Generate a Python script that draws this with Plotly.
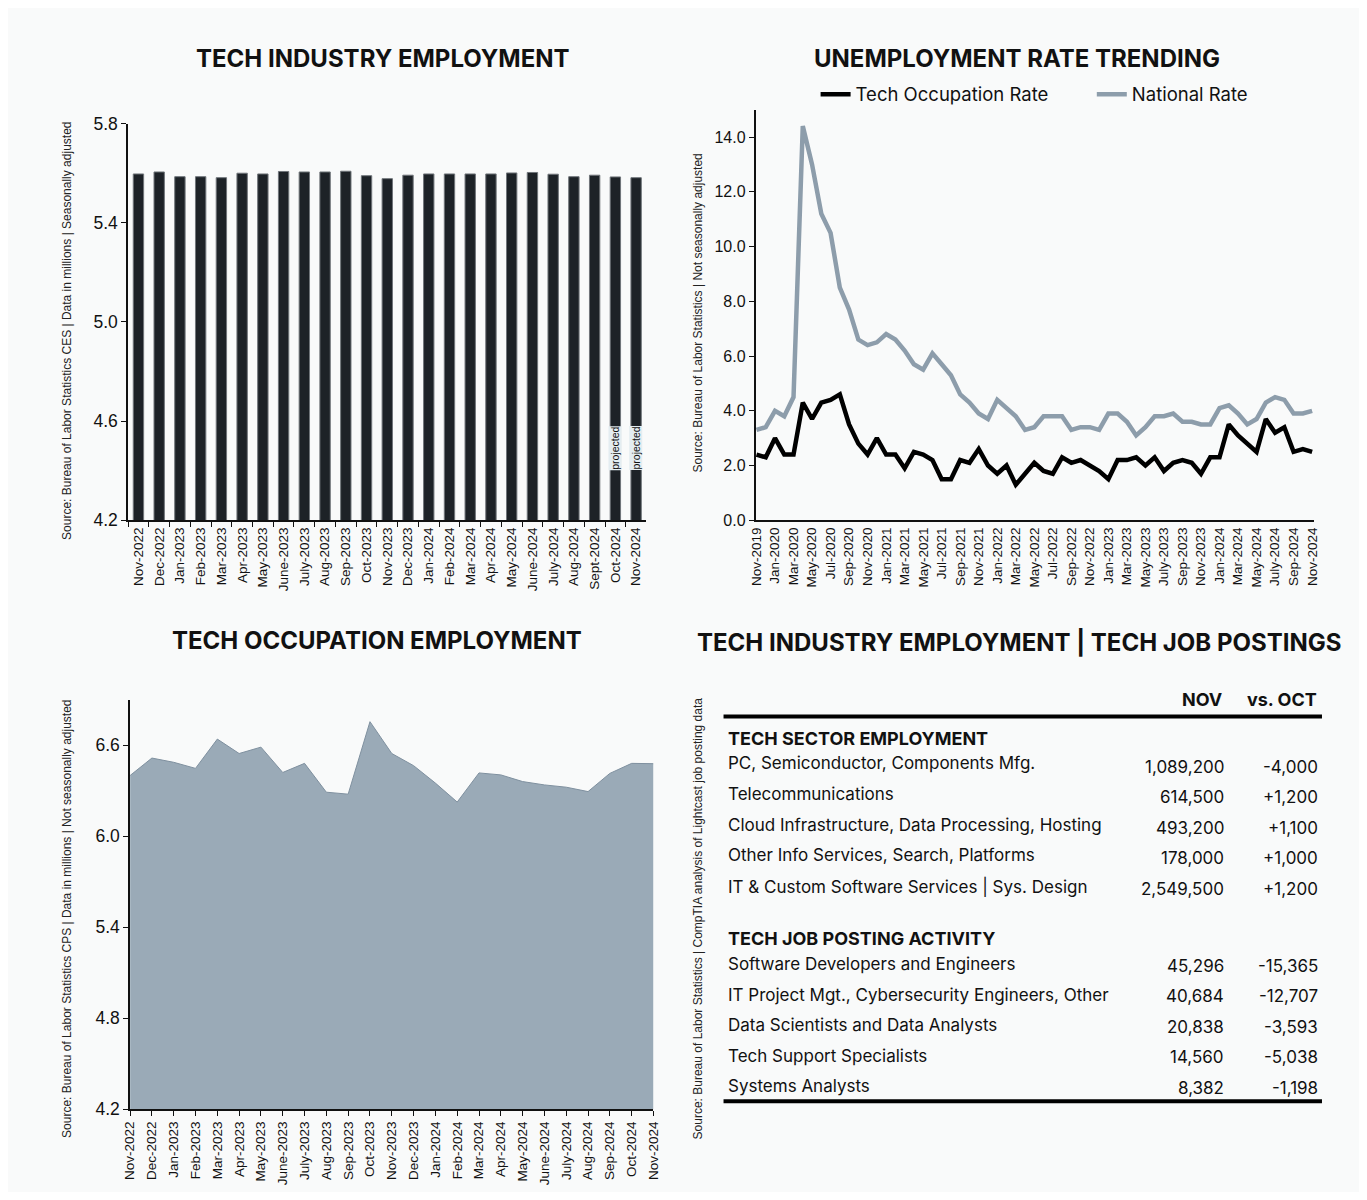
import plotly.graph_objects as go

W, H = 1351, 1184
BODY = 8     # browser body margin
M = 8        # effective figure margin observed on every side
BG = "#f9fafa"

# ---------------- data ----------------
ind_months = ["Nov-2022", "Dec-2022", "Jan-2023", "Feb-2023", "Mar-2023", "Apr-2023", "May-2023",
              "June-2023", "July-2023", "Aug-2023", "Sep-2023", "Oct-2023", "Nov-2023", "Dec-2023",
              "Jan-2024", "Feb-2024", "Mar-2024", "Apr-2024", "May-2024", "June-2024", "July-2024",
              "Aug-2024", "Sept-2024", "Oct-2024", "Nov-2024"]
ind_employment = [5.597, 5.605, 5.586, 5.586, 5.582, 5.600, 5.597, 5.607, 5.605, 5.605, 5.608,
                  5.590, 5.578, 5.592, 5.597, 5.597, 5.597, 5.597, 5.601, 5.603, 5.596, 5.586,
                  5.592, 5.585, 5.582]
projected_months = ["Oct-2024", "Nov-2024"]

occ_months = ["Nov-2022", "Dec-2022", "Jan-2023", "Feb-2023", "Mar-2023", "Apr-2023", "May-2023",
              "June-2023", "July-2023", "Aug-2023", "Sep-2023", "Oct-2023", "Nov-2023", "Dec-2023",
              "Jan-2024", "Feb-2024", "Mar-2024", "Apr-2024", "May-2024", "June-2024", "July-2024",
              "Aug-2024", "Sep-2024", "Oct-2024", "Nov-2024"]
occ_employment = [6.40, 6.515, 6.487, 6.447, 6.64, 6.545, 6.587, 6.42, 6.48, 6.29, 6.277, 6.755,
                  6.545, 6.465, 6.35, 6.225, 6.417, 6.404, 6.36, 6.338, 6.323, 6.294, 6.414,
                  6.48, 6.478]

rate_months = ["Nov-2019", "Dec-2019",
               "Jan-2020", "Feb-2020", "Mar-2020", "Apr-2020", "May-2020", "Jun-2020",
               "Jul-2020", "Aug-2020", "Sep-2020", "Oct-2020", "Nov-2020", "Dec-2020",
               "Jan-2021", "Feb-2021", "Mar-2021", "Apr-2021", "May-2021", "Jun-2021",
               "Jul-2021", "Aug-2021", "Sep-2021", "Oct-2021", "Nov-2021", "Dec-2021",
               "Jan-2022", "Feb-2022", "Mar-2022", "Apr-2022", "May-2022", "Jun-2022",
               "Jul-2022", "Aug-2022", "Sep-2022", "Oct-2022", "Nov-2022", "Dec-2022",
               "Jan-2023", "Feb-2023", "Mar-2023", "Apr-2023", "May-2023", "Jun-2023",
               "July-2023", "Aug-2023", "Sep-2023", "Oct-2023", "Nov-2023", "Dec-2023",
               "Jan-2024", "Feb-2024", "Mar-2024", "Apr-2024", "May-2024", "Jun-2024",
               "July-2024", "Aug-2024", "Sep-2024", "Oct-2024", "Nov-2024"]
tech_rate = [2.4, 2.3, 3.0, 2.4, 2.4, 4.3, 3.7, 4.3, 4.4, 4.6, 3.5, 2.8, 2.4, 3.0,
             2.4, 2.4, 1.9, 2.5, 2.4, 2.2, 1.5, 1.5, 2.2, 2.1, 2.6, 2.0,
             1.7, 2.0, 1.3, 1.7, 2.1, 1.8, 1.7, 2.3, 2.1, 2.2, 2.0, 1.8,
             1.5, 2.2, 2.2, 2.3, 2.0, 2.3, 1.8, 2.1, 2.2, 2.1, 1.7, 2.3,
             2.3, 3.5, 3.1, 2.8, 2.5, 3.7, 3.2, 3.4, 2.5, 2.6, 2.5]
national_rate = [3.3, 3.4, 4.0, 3.8, 4.5, 14.4, 13.0, 11.2, 10.5, 8.5, 7.7, 6.6, 6.4, 6.5,
                 6.8, 6.6, 6.2, 5.7, 5.5, 6.1, 5.7, 5.3, 4.6, 4.3, 3.9, 3.7,
                 4.4, 4.1, 3.8, 3.3, 3.4, 3.8, 3.8, 3.8, 3.3, 3.4, 3.4, 3.3,
                 3.9, 3.9, 3.6, 3.1, 3.4, 3.8, 3.8, 3.9, 3.6, 3.6, 3.5, 3.5,
                 4.1, 4.2, 3.9, 3.5, 3.7, 4.3, 4.5, 4.4, 3.9, 3.9, 4.0]
rate_tick_labels = rate_months[::2]

sector_labels = ["PC, Semiconductor, Components Mfg.", "Telecommunications",
                 "Cloud Infrastructure, Data Processing, Hosting",
                 "Other Info Services, Search, Platforms",
                 "IT & Custom Software Services | Sys. Design"]
sector_nov = ["1,089,200", "614,500", "493,200", "178,000", "2,549,500"]
sector_chg = ["-4,000", "+1,200", "+1,100", "+1,000", "+1,200"]

posting_labels = ["Software Developers and Engineers",
                  "IT Project Mgt., Cybersecurity Engineers, Other",
                  "Data Scientists and Data Analysts", "Tech Support Specialists",
                  "Systems Analysts"]
posting_nov = ["45,296", "40,684", "20,838", "14,560", "8,382"]
posting_chg = ["-15,365", "-12,707", "-3,593", "-5,038", "-1,198"]


def px(x):
    return (x - BODY - M) / (W - 2 * M)


def py(y):
    return 1 - (y - BODY - M) / (H - 2 * M)


TICKFONT_L = dict(family="Liberation Sans, Arial, sans-serif", size=17.5, color="#111")
TICKFONT_R = dict(family="Liberation Sans, Arial, sans-serif", size=16, color="#111")
XTICKFONT = dict(family="Liberation Sans, Arial, sans-serif", size=13.5, color="#111")
TITLEFONT = dict(family="Inter, Roboto, sans-serif", size=24, color="#111")
SRCFONT = dict(family="Liberation Sans, Arial, sans-serif", size=12, color="#222")
TXT = dict(family="Inter, Roboto, sans-serif", size=17, color="#111")
LEGFONT = dict(family="Inter, Roboto, sans-serif", size=18.5, color="#111")

fig = go.Figure()

# --- chart 1: tech industry employment bars
fig.add_trace(go.Bar(x=ind_months, y=ind_employment, xaxis="x", yaxis="y",
                     marker=dict(color="#1d2227", line=dict(color="#70757a", width=1)),
                     showlegend=False))

# --- chart 2: unemployment rate lines
fig.add_trace(go.Scatter(x=rate_months, y=tech_rate, xaxis="x2", yaxis="y2", mode="lines",
                         name="Tech Occupation Rate", legend="legend",
                         line=dict(color="#000000", width=4.5)))
fig.add_trace(go.Scatter(x=rate_months, y=national_rate, xaxis="x2", yaxis="y2", mode="lines",
                         name="National Rate", legend="legend2",
                         line=dict(color="#8d9dab", width=4.5)))

# --- chart 3: tech occupation employment area
fig.add_trace(go.Scatter(x=occ_months, y=occ_employment, xaxis="x3", yaxis="y3", mode="lines",
                         fill="tozeroy", fillcolor="#9aaab7",
                         line=dict(color="#7f909f", width=1), showlegend=False))

axis_common = dict(showline=True, linecolor="#111", linewidth=1.5, ticks="outside",
                   ticklen=5, tickcolor="#111", showgrid=False, zeroline=False)

annotations = []
shapes = []

# titles
for text, x, y in [("TECH INDUSTRY EMPLOYMENT", 383, 57),
                   ("UNEMPLOYMENT RATE TRENDING", 1016, 57),
                   ("TECH OCCUPATION EMPLOYMENT", 377, 641),
                   ("TECH INDUSTRY EMPLOYMENT | TECH JOB POSTINGS", 1018, 643)]:
    annotations.append(dict(text="<b>" + text + "</b>", x=px(x), y=py(y), xref="paper",
                            yref="paper", xanchor="center", yanchor="middle",
                            showarrow=False, font=TITLEFONT))

# rotated source notes
for text, x, y in [("Source: Bureau of Labor Statistics CES | Data in millions | Seasonally adjusted", 67, 330),
                   ("Source: Bureau of Labor Statistics | Not seasonally adjusted", 697, 312),
                   ("Source: Bureau of Labor Statistics CPS | Data in millions | Not seasonally adjusted", 67, 920),
                   ("Source: Bureau of Labor Statistics | CompTIA analysis of Lightcast job posting data", 697, 920)]:
    annotations.append(dict(text=text, x=px(x), y=py(y), xref="paper", yref="paper",
                            xanchor="center", yanchor="middle", textangle=-90,
                            showarrow=False, font=SRCFONT))

# projected labels on bars
for m in projected_months:
    annotations.append(dict(text="projected", x=m, y=4.49, xref="x", yref="y",
                            textangle=-90, showarrow=False, bgcolor="#e4edf1",
                            borderpad=0,
                            font=dict(family="Liberation Sans, Arial, sans-serif", size=10.5,
                                      color="#111")))

# table
annotations.append(dict(text="<b>NOV</b>", x=px(1223), y=py(700), xref="paper", yref="paper",
                        xanchor="right", yanchor="middle", showarrow=False,
                        font=dict(TXT, size=18)))
annotations.append(dict(text="<b>vs. OCT</b>", x=px(1318), y=py(700), xref="paper",
                        yref="paper", xanchor="right", yanchor="middle", showarrow=False,
                        font=dict(TXT, size=18)))
shapes.append(dict(type="line", xref="paper", yref="paper", x0=px(723), x1=px(1321),
                   y0=py(717), y1=py(717), line=dict(color="#000", width=4)))
shapes.append(dict(type="line", xref="paper", yref="paper", x0=px(723), x1=px(1321),
                   y0=py(1103), y1=py(1103), line=dict(color="#000", width=4)))


def section(header, hy, labels, novs, chgs, label_ys, value_ys):
    annotations.append(dict(text="<b>" + header + "</b>", x=px(725), y=py(hy), xref="paper",
                            yref="paper", xanchor="left", yanchor="middle", showarrow=False,
                            font=dict(TXT, size=18)))
    for lab, nv, ch, ly, vy in zip(labels, novs, chgs, label_ys, value_ys):
        annotations.append(dict(text=lab, x=px(725), y=py(ly), xref="paper", yref="paper",
                                xanchor="left", yanchor="middle", showarrow=False, font=TXT))
        annotations.append(dict(text=nv, x=px(1225), y=py(vy), xref="paper", yref="paper",
                                xanchor="right", yanchor="middle", showarrow=False, font=TXT))
        annotations.append(dict(text=ch, x=px(1319), y=py(vy), xref="paper", yref="paper",
                                xanchor="right", yanchor="middle", showarrow=False, font=TXT))


section("TECH SECTOR EMPLOYMENT", 739, sector_labels, sector_nov, sector_chg,
        [764, 795, 826, 856, 887], [768, 798, 829, 859, 890])
section("TECH JOB POSTING ACTIVITY", 940, posting_labels, posting_nov, posting_chg,
        [965, 996, 1026, 1058, 1088], [967, 997, 1028, 1059, 1090])

fig.update_layout(
    width=W, height=H, margin=dict(l=0, r=0, t=0, b=0, pad=0),
    paper_bgcolor=BG, plot_bgcolor=BG,
    bargap=0.5,
    showlegend=True,
    legend=dict(orientation="h", x=px(815), y=py(93), xanchor="left", yanchor="middle",
                font=LEGFONT, bgcolor="rgba(0,0,0,0)", borderwidth=0),
    legend2=dict(orientation="h", x=px(1091), y=py(93), xanchor="left", yanchor="middle",
                 font=LEGFONT, bgcolor="rgba(0,0,0,0)", borderwidth=0),
    xaxis=dict(axis_common, domain=[px(128), px(646)], anchor="y", type="category",
               tickson="boundaries", tickangle=-90, tickfont=XTICKFONT,
               categoryorder="array", categoryarray=ind_months),
    yaxis=dict(axis_common, domain=[py(520), py(122)], anchor="x", range=[4.2, 5.8],
               tickvals=[4.2, 4.6, 5.0, 5.4, 5.8], ticktext=["4.2", "4.6", "5.0", "5.4", "5.8"],
               tickfont=TICKFONT_L),
    xaxis2=dict(axis_common, domain=[px(755), px(1313)], anchor="y2", type="category",
                range=[-0.1, 60.2], ticks="", tickangle=-90, tickfont=XTICKFONT,
                tickvals=rate_tick_labels, ticktext=rate_tick_labels,
                categoryorder="array", categoryarray=rate_months),
    yaxis2=dict(axis_common, domain=[py(520), py(108)], anchor="x2", range=[0, 15],
                tickvals=[0, 2, 4, 6, 8, 10, 12, 14],
                ticktext=["0.0", "2.0", "4.0", "6.0", "8.0", "10.0", "12.0", "14.0"],
                tickfont=TICKFONT_R),
    xaxis3=dict(axis_common, domain=[px(130), px(653)], anchor="y3", type="category",
                range=[0, 24], tickangle=-90, tickfont=XTICKFONT,
                categoryorder="array", categoryarray=occ_months),
    yaxis3=dict(axis_common, domain=[py(1111), py(700)], anchor="x3", range=[4.2, 6.9],
                tickvals=[4.2, 4.8, 5.4, 6.0, 6.6],
                ticktext=["4.2", "4.8", "5.4", "6.0", "6.6"], tickfont=TICKFONT_L),
    annotations=annotations,
    shapes=shapes,
)

fig.write_html("out.html")
